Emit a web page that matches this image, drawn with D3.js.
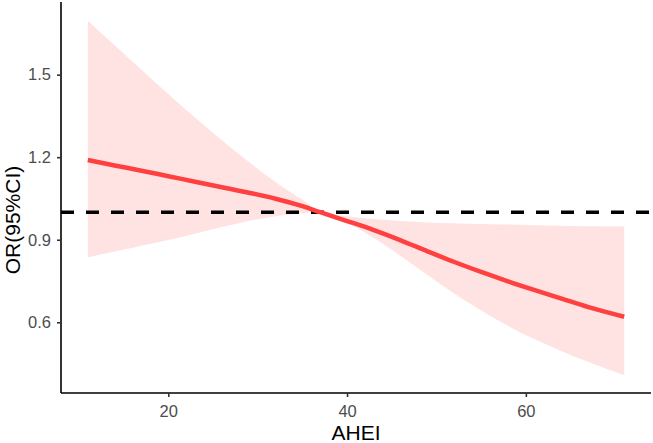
<!DOCTYPE html>
<html>
<head>
<meta charset="utf-8">
<script src="https://cdn.jsdelivr.net/npm/d3@7"></script>
<style>
  body { margin: 0; background: #fff; }
  text { font-family: "Liberation Sans", Arial, sans-serif; }
</style>
</head>
<body>
<div id="chart"></div>
<script>
// AHEI values and fitted OR with 95% CI
var ahei  = [11, 14, 17, 20, 23, 26, 29, 32, 35, 37, 40, 43, 46, 49, 52, 55, 58, 61, 64, 67, 71];
var orFit = [1.190, 1.170, 1.151, 1.131, 1.111, 1.091, 1.071, 1.049, 1.022, 1.000, 0.968, 0.935, 0.898, 0.858, 0.819, 0.783, 0.749, 0.717, 0.686, 0.655, 0.620];
var upper = [1.696, 1.607, 1.518, 1.430, 1.344, 1.262, 1.183, 1.110, 1.045, 1.000, 0.985, 0.975, 0.968, 0.963, 0.960, 0.957, 0.955, 0.953, 0.951, 0.949, 0.948];
var lower = [0.836, 0.857, 0.878, 0.899, 0.922, 0.946, 0.968, 0.985, 0.996, 1.000, 0.962, 0.906, 0.841, 0.772, 0.704, 0.643, 0.587, 0.538, 0.495, 0.456, 0.408];
var xTicks = [20, 40, 60];
var yTicks = [0.6, 0.9, 1.2, 1.5];
var refLine = 1;

var W = 653, H = 443;
var margin = {top: 2, right: 2, bottom: 50, left: 61};
var width = W - margin.left - margin.right,
    height = H - margin.top - margin.bottom;

var data = ahei.map(function(a, i) {
    return {x: a, y: orFit[i], lo: lower[i], hi: upper[i]};
});

var x = d3.scaleLinear().domain([8, 74]).range([0, width]);
var y = d3.scaleLinear().domain([0.343, 1.764]).range([height, 0]);

var svg = d3.select("#chart").append("svg")
    .attr("width", W)
    .attr("height", H);

var g = svg.append("g")
    .attr("transform", "translate(" + margin.left + "," + margin.top + ")");

// ribbon
var band = d3.area()
    .x(function(d) { return x(d.x); })
    .y0(function(d) { return y(d.lo); })
    .y1(function(d) { return y(d.hi); })
    .curve(d3.curveCatmullRom);

g.append("path")
    .datum(data)
    .attr("d", band)
    .attr("fill", "#ff4040")
    .attr("fill-opacity", 0.15);

// reference line at OR = 1
g.append("line")
    .attr("x1", 0)
    .attr("x2", width)
    .attr("y1", y(refLine))
    .attr("y2", y(refLine))
    .attr("stroke", "#000")
    .attr("stroke-width", 3.5)
    .attr("stroke-dasharray", "13,12");

// fitted curve
var line = d3.line()
    .x(function(d) { return x(d.x); })
    .y(function(d) { return y(d.y); })
    .curve(d3.curveCatmullRom);

g.append("path")
    .datum(data)
    .attr("d", line)
    .attr("fill", "none")
    .attr("stroke", "#ff4040")
    .attr("stroke-width", 4.5);

// axes
var xAxis = d3.axisBottom(x).tickValues(xTicks).tickSize(4).tickPadding(8);
var yAxis = d3.axisLeft(y).tickValues(yTicks).tickSize(4).tickPadding(6)
    .tickFormat(d3.format(".1f"));

var gx = g.append("g")
    .attr("transform", "translate(0," + height + ")")
    .call(xAxis);
var gy = g.append("g")
    .call(yAxis);

[gx, gy].forEach(function(ax) {
    ax.select(".domain").attr("stroke", "#000").attr("stroke-width", 1.6);
    ax.selectAll(".tick line").attr("stroke", "#333").attr("stroke-width", 1.6);
    ax.selectAll(".tick text")
        .attr("fill", "#4d4d4d")
        .style("font-size", "16.5px")
        .style("font-family", "'Liberation Sans', Arial, sans-serif");
});
// plain axis lines, no end stubs
gx.select(".domain").attr("d", "M0,0H" + width);
gy.select(".domain").attr("d", "M0," + height + "V0");

// axis titles
svg.append("text")
    .attr("x", margin.left + width / 2)
    .attr("y", 440)
    .attr("text-anchor", "middle")
    .style("font-size", "21px")
    .attr("fill", "#000")
    .text("AHEI");

svg.append("text")
    .attr("transform", "translate(20," + 220 + ") rotate(-90)")
    .attr("text-anchor", "middle")
    .style("font-size", "21px")
    .attr("fill", "#000")
    .text("OR(95%CI)");
</script>
</body>
</html>
